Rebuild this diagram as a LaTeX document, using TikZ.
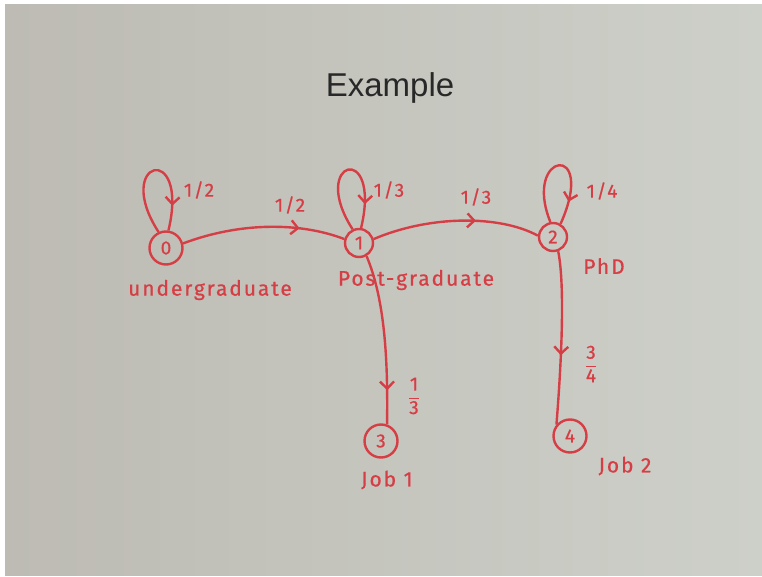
\documentclass[tikz,border=0pt]{standalone}
\usepackage{fontspec}
\setmainfont{Liberation Sans}
\newfontfamily\hand[LetterSpace=9,FakeBold=0.6]{Fira Sans}
\usetikzlibrary{arrows.meta,decorations.markings}
\definecolor{ink}{RGB}{214,62,70}
\definecolor{bgl}{RGB}{189,187,179}
\definecolor{bgr}{RGB}{205,208,201}
\definecolor{titlec}{RGB}{40,40,40}
\tikzset{
  state/.style={circle,draw=ink,line width=2.4pt,minimum size=28pt,inner sep=0pt,text=ink,font=\hand\fontsize{19}{19}\selectfont},
  bigstate/.style={state,minimum size=33pt},
  lbl/.style={text=ink,font=\hand\fontsize{21}{21}\selectfont,inner sep=0pt},
  prob/.style={text=ink,font=\hand\fontsize{19}{19}\selectfont,inner sep=0pt},
  conn/.style={draw=ink,color=ink,line width=2.4pt},
  midarrow/.style={postaction={decorate},decoration={markings,mark=at position #1 with {\arrow{Straight Barb[length=7pt,width=14pt]}}}},
}
\begin{document}
\begin{tikzpicture}[x=1pt,y=-1pt]
\useasboundingbox (0,0) rectangle (762,577);
\fill[white] (0,0) rectangle (762,577);
\shade[left color=bgl,right color=bgr] (5,5) rectangle (762,575);

\node[text=titlec,font=\fontsize{33}{33}\selectfont] (title) at (390,88) {Example};

% states
\node[bigstate] (n0) at (166,248) {0};
\node[state] (n1) at (359,243) {1};
\node[state] (n2) at (553,237) {2};
\node[bigstate] (n3) at (381,441) {3};
\node[bigstate] (n4) at (570,436) {4};

% self loops
\draw[conn,midarrow=0.82] (n0.115) .. controls (112,160) and (190,140) .. (n0.82);
\draw[conn,midarrow=0.82] (n1.115) .. controls (308,160) and (382,140) .. (n1.82);
\draw[conn,midarrow=0.82] (n2.100) .. controls (522,152) and (598,140) .. (n2.60);

% transitions
\draw[conn,midarrow=0.72] (n0.15) .. controls (240,222) and (300,222) .. (n1.165);
\draw[conn,midarrow=0.62] (n1.15) .. controls (430,215) and (500,215) .. (n2.175);
\draw[conn,midarrow=0.8] (n1.300) .. controls (385,300) and (388,360) .. (n3.70);
\draw[conn,midarrow=0.6] (n2.290) .. controls (566,290) and (560,380) .. (n4.140);

% probabilities
\node[prob] (p00) at (199,190) {1/2};
\node[prob] (p01) at (290,205) {1/2};
\node[prob] (p11) at (389,190) {1/3};
\node[prob] (p12) at (476,197) {1/3};
\node[prob] (p22) at (602,191) {1/4};
\node[prob] (p13) at (414,396) {$\displaystyle\frac{\mbox{1}}{\mbox{3}}$};
\node[prob] (p24) at (591,364) {$\displaystyle\frac{\mbox{3}}{\mbox{4}}$};

% state names
\node[lbl] (l0) at (210,290) {undergraduate};
\node[lbl] (l1) at (416,280) {Post-graduate};
\node[lbl] (l2) at (604,266) {PhD};
\node[lbl] (l3) at (387,480) {Job 1};
\node[lbl] (l4) at (625,466) {Job 2};
\end{tikzpicture}
\end{document}
